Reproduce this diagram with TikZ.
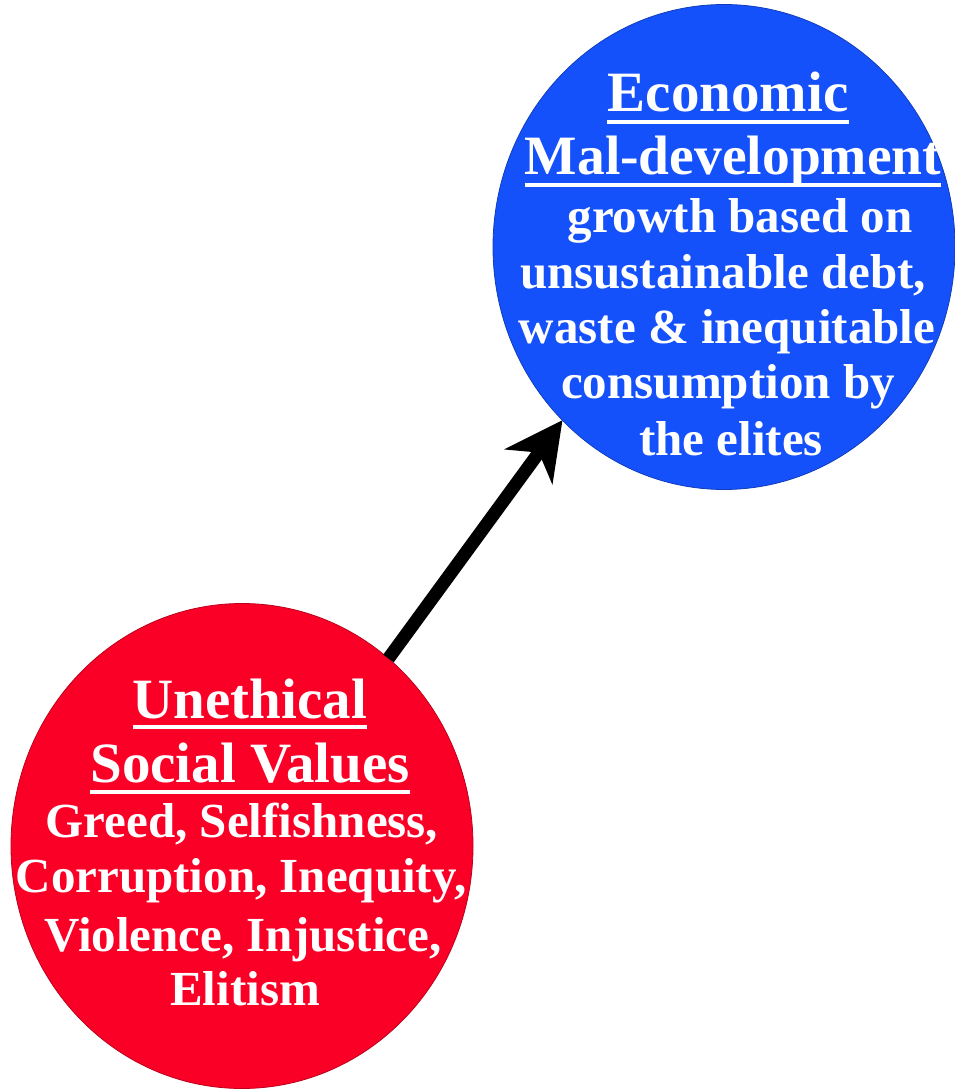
\documentclass[tikz,border=0pt]{standalone}
\usepackage{fontspec}
\setmainfont{Liberation Serif}
\usetikzlibrary{shapes.geometric,arrows.meta}
\definecolor{bubblue}{RGB}{21,81,250}
\definecolor{bubred}{RGB}{250,0,38}
\begin{document}
\begin{tikzpicture}[x=1pt,y=-1pt,
  bubble/.style={ellipse, minimum width=462pt, minimum height=485pt, inner sep=0pt, outer sep=0pt, line width=0.8pt},
  title/.style={anchor=base, inner sep=0pt, text=white, font=\fontsize{57}{60}\selectfont\bfseries},
  body/.style={anchor=base, inner sep=0pt, text=white, font=\fontsize{49}{55}\selectfont\bfseries},
  uline/.style={draw=white, line width=3.5pt},
  arr/.style={line width=13pt, -{Stealth[length=58pt,width=60pt,inset=18pt,line width=0pt]}}
]
\useasboundingbox (0,0) rectangle (954,1091);
\node[bubble, fill=bubblue, draw=bubblue!75!black] (blue) at (724,247) {};
\node[bubble, fill=bubred, draw=bubred!75!black] (red) at (242,846) {};

% blue text
\node[title] (e1) at (728,112) {Economic};
\node[title, font=\fontsize{55.5}{60}\selectfont\bfseries] (e2) at (733,175) {Mal-development};
\node[body] (e3) at (740,233) {growth based on};
\node[body] (e4) at (723,288) {unsustainable debt,};
\node[body] (e5) at (727,343) {waste \& inequitable};
\node[body] (e6) at (728,398) {consumption by};
\node[body] (e7) at (731,455) {the elites};
\draw[uline] ([yshift=-10pt]e1.base west) -- ([yshift=-10pt]e1.base east);
\draw[uline] ([yshift=-10pt]e2.base west) -- ([yshift=-10pt]e2.base east);

% red text
\node[title] (u1) at (250,718) {Unethical};
\node[title] (u2) at (250,782) {Social Values};
\node[body] (u3) at (242,837) {Greed, Selfishness,};
\node[body] (u4) at (241,892) {Corruption, Inequity,};
\node[body] (u5) at (243,951) {Violence, Injustice,};
\node[body] (u6) at (245,1005) {Elitism};
\draw[uline] ([yshift=-9pt]u1.base west) -- ([yshift=-9pt]u1.base east);
\draw[uline] ([yshift=-10pt]u2.base west) -- ([yshift=-10pt]u2.base east);

% connector
\draw[arr] (red.52.8) -- (blue.227);
\end{tikzpicture}
\end{document}
